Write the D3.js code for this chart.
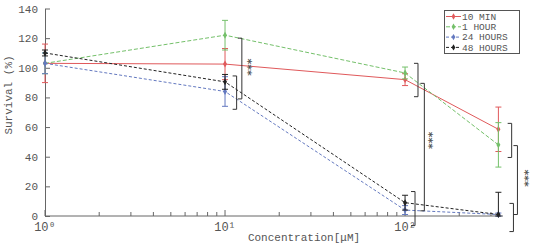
<!DOCTYPE html>
<html lang="en">
<head>
<meta charset="UTF-8">
<title>Survival</title>
<script src="https://cdnjs.cloudflare.com/ajax/libs/d3/7.8.5/d3.min.js"></script>
<style>
  body { margin: 0; background: #fff; }
  text { font-family: "Liberation Mono", "DejaVu Sans Mono", monospace; fill: #555; }
</style>
</head>
<body>
<svg width="533" height="245"></svg>
<script>
"use strict";

// concentrations in uM
const concentrations = [1, 10, 100, 330];
const seriesNames = ["10 MIN", "1 HOUR", "24 HOURS", "48 HOURS"];
const min10 = [103, 102.5, 92, 58.5];
const min10Err = [13, 10.5, 4, 15];
const hour1 = [103, 122, 96.5, 48];
const hour1Err = [7, 10, 4, 15];
const hours24 = [103, 84, 4, 1];
const hours24Err = [7, 10, 3, 1];
const hours48 = [110, 90.5, 9, 1];
const hours48Err = [2, 5, 5, 15];

const yTicks = [0, 20, 40, 60, 80, 100, 120, 140];
const xMajor = [1, 10, 100];
const xMinor = [2, 3, 4, 5, 6, 7, 8, 9, 20, 30, 40, 50, 60, 70, 80, 90, 200, 300];
const xTickLabels = ["10\u2070", "10\u00b9", "10\u00b2"];

// significance brackets (x in uM, y in %)
const bracketX = [12.4, 11.6, 118, 128, 113.6, 391, 421, 400];
const bracketTop = [120, 94.5, 103, 89.5, 16.5, 62.5, 47.5, 8.5];
const bracketBottom = [79, 72, 80.5, 3.5, -6.5, 39.5, 1, -10.5];
const starX = [13.6, 139, 474];
const starY = [100.5, 51, 25.6];

const colors = ["#e0595b", "#74c06a", "#6479c0", "#222"];
const dashes = [null, "4,2", "3,2", "3,2"];

const svg = d3.select("svg");
const x = d3.scaleLog().domain([1, 350]).range([45, 503]);
const y = d3.scaleLinear().domain([0, 140]).range([216, 8.5]);

const series = [
  { name: seriesNames[0], v: min10, e: min10Err },
  { name: seriesNames[1], v: hour1, e: hour1Err },
  { name: seriesNames[2], v: hours24, e: hours24Err },
  { name: seriesNames[3], v: hours48, e: hours48Err },
];

// axes
const yAxis = svg.append("g")
  .attr("transform", `translate(${x(1)},0)`)
  .call(d3.axisLeft(y).tickValues(yTicks).tickSizeInner(-5).tickSizeOuter(0).tickPadding(7));
yAxis.selectAll("text").style("font-size", "11px").attr("fill", "#555").style("font-family", "Liberation Mono");
yAxis.selectAll("line, path").attr("stroke", "#666");

const xg = svg.append("g");
xg.append("line").attr("x1", x(1)).attr("x2", x(350)).attr("y1", y(0)).attr("y2", y(0)).attr("stroke", "#666");
xg.selectAll(".maj").data(xMajor).enter().append("line")
  .attr("x1", d => x(d)).attr("x2", d => x(d)).attr("y1", y(0)).attr("y2", y(0) - 6).attr("stroke", "#666");
xg.selectAll(".min").data(xMinor).enter().append("line")
  .attr("x1", d => x(d)).attr("x2", d => x(d)).attr("y1", y(0)).attr("y2", y(0) - 4).attr("stroke", "#666");
xg.selectAll(".lab").data(xMajor).enter().append("text")
  .attr("x", d => x(d)).attr("y", y(0) + 15)
  .attr("text-anchor", "middle").style("font-size", "12px")
  .text((d, i) => xTickLabels[i]);

svg.append("text").attr("x", 304).attr("y", 241).attr("text-anchor", "middle")
  .style("font-size", "11px").text("Concentration[\u03bcM]");
svg.append("text").attr("transform", "translate(12,95) rotate(-90)").attr("text-anchor", "middle")
  .style("font-size", "11px").text("Survival (%)");

// series
const line = d3.line().x((d, i) => x(concentrations[i])).y(d => y(d));
series.forEach((s, k) => {
  const g = svg.append("g");
  g.append("path").datum(s.v).attr("d", line).attr("fill", "none")
    .attr("stroke", colors[k]).attr("stroke-width", 1).attr("stroke-dasharray", dashes[k]);
  s.v.forEach((v, i) => {
    const cx = x(concentrations[i]);
    const lo = Math.max(0, v - s.e[i]), hi = v + s.e[i];
    g.append("line").attr("x1", cx).attr("x2", cx).attr("y1", y(lo)).attr("y2", y(hi)).attr("stroke", colors[k]);
    [lo, hi].forEach(t => g.append("line").attr("x1", cx - 3).attr("x2", cx + 3)
      .attr("y1", y(t)).attr("y2", y(t)).attr("stroke", colors[k]));
    g.append("path").attr("d", d3.symbol(d3.symbolDiamond, 14)())
      .attr("transform", `translate(${cx},${y(v)})`).attr("fill", colors[k]);
  });
});

// brackets
bracketX.forEach((bx, i) => {
  const px = x(bx), t = y(bracketTop[i]), b = y(bracketBottom[i]);
  svg.append("path").attr("d", `M${px - 4},${t}H${px}V${b}H${px - 4}`)
    .attr("fill", "none").attr("stroke", "#333").attr("stroke-width", 1);
});
starX.forEach((sx, i) => {
  svg.append("text").attr("transform", `translate(${x(sx) - 5.5},${y(starY[i])}) rotate(90)`)
    .attr("text-anchor", "middle").style("font-size", "11px").style("font-family", "DejaVu Sans")
    .style("font-weight", "bold").attr("fill", "#333").text("***");
});

// legend
const lg = svg.append("g");
lg.append("rect").attr("x", 444.5).attr("y", 10.5).attr("width", 75).attr("height", 43)
  .attr("fill", "#fff").attr("stroke", "#555");
series.forEach((s, k) => {
  const ly = 16.5 + k * 10.3;
  lg.append("line").attr("x1", 446).attr("x2", 461).attr("y1", ly).attr("y2", ly)
    .attr("stroke", colors[k]).attr("stroke-dasharray", dashes[k]);
  lg.append("path").attr("d", d3.symbol(d3.symbolDiamond, 12)())
    .attr("transform", `translate(453.5,${ly})`).attr("fill", colors[k]);
  lg.append("text").attr("x", 462).attr("y", ly + 3.2).style("font-size", "9.5px").text(s.name);
});
</script>
</body>
</html>
